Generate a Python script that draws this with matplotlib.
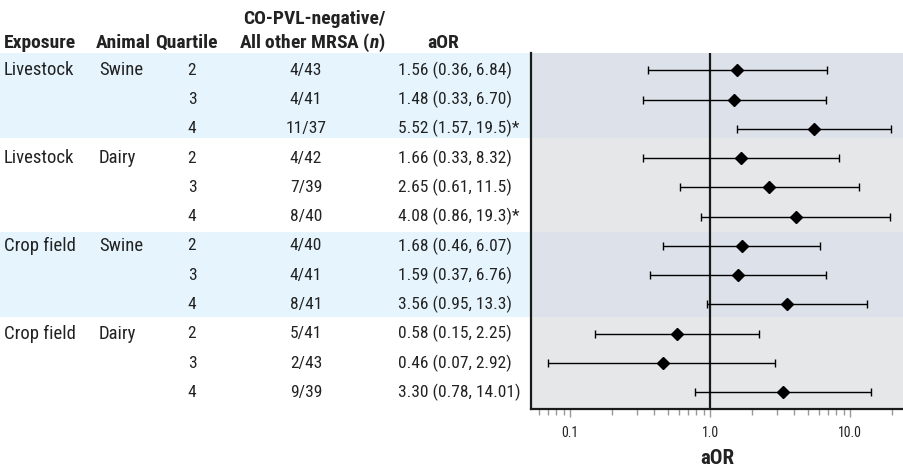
import matplotlib
matplotlib.use("Agg")
import matplotlib.pyplot as plt

plt.rcParams['font.family'] = ['Roboto Condensed', 'DejaVu Sans']
plt.rcParams['mathtext.fontset'] = 'custom'
plt.rcParams['mathtext.it'] = 'Roboto Condensed:italic:bold'

# donnees du tableau
exposures = ["Livestock", "Livestock", "Crop field", "Crop field"]
animals = ["Swine", "Dairy", "Swine", "Dairy"]
quartiles = ["2", "3", "4"] * 4
counts = ["4/43", "4/41", "11/37", "4/42", "7/39", "8/40",
          "4/40", "4/41", "8/41", "5/41", "2/43", "9/39"]
aor = [1.56, 1.48, 5.52, 1.66, 2.65, 4.08, 1.68, 1.59, 3.56, 0.58, 0.46, 3.30]
ci_low = [0.36, 0.33, 1.57, 0.33, 0.61, 0.86, 0.46, 0.37, 0.95, 0.15, 0.07, 0.78]
ci_high = [6.84, 6.70, 19.5, 8.32, 11.5, 19.3, 6.07, 6.76, 13.3, 2.25, 2.92, 14.01]
aor_labels = ["1.56 (0.36, 6.84)", "1.48 (0.33, 6.70)", "5.52 (1.57, 19.5)*",
              "1.66 (0.33, 8.32)", "2.65 (0.61, 11.5)", "4.08 (0.86, 19.3)*",
              "1.68 (0.46, 6.07)", "1.59 (0.37, 6.76)", "3.56 (0.95, 13.3)",
              "0.58 (0.15, 2.25)", "0.46 (0.07, 2.92)", "3.30 (0.78, 14.01)"]

W, H = 904, 467
XL = 530.7
fig = plt.figure(figsize=(W / 100, H / 100), dpi=100)
rect_b, rect_h = (H - 409) / H, (409 - 53) / H
ax = fig.add_axes([XL / W, rect_b, 1 - XL / W, rect_h])
tab = fig.add_axes([0, rect_b, XL / W, rect_h], zorder=-1)

rows = list(range(len(aor)))
ylim = (11.57, -0.59)
ax.set_ylim(*ylim)
tab.set_ylim(*ylim)
tab.set_xlim(0, XL)
tab.axis('off')
ax.set_xscale('log')
ax.set_xlim(0.0524, 24.3)

# bandes de fond
bounds = [-0.59, 2.33, 5.52, 8.43, 11.57]
for g in range(4):
    y0, y1 = bounds[g], bounds[g + 1]
    if animals[g] == "Swine":
        ax.axhspan(y0, y1, color='#dde2ea', lw=0, zorder=0)
        tab.axhspan(y0, y1, color='#e6f5fd', lw=0, zorder=0)
    else:
        ax.axhspan(y0, y1, color='#e6e7e8', lw=0, zorder=0)

ax.axvline(1.0, color='#1a1a1a', lw=1.6, zorder=2)
xerr = [[a - l for a, l in zip(aor, ci_low)], [h - a for a, h in zip(aor, ci_high)]]
ax.errorbar(aor, rows, xerr=xerr, fmt='D', color='black', ms=6, elinewidth=1,
            capsize=2.6, capthick=1, zorder=3)

for s in ['top', 'right']:
    ax.spines[s].set_visible(False)
for s in ['left', 'bottom']:
    ax.spines[s].set_linewidth(1.6)
    ax.spines[s].set_color('#1a1a1a')
ax.set_yticks([])
ax.set_xticks([0.1, 1.0, 10.0])
ax.set_xticklabels(['0.1', '1.0', '10.0'])
ax.tick_params(axis='x', which='major', length=6, width=1, color='#999999',
               labelsize=10, pad=6, labelcolor='#222222')
ax.tick_params(axis='x', which='minor', length=4, width=1, color='#999999')
ax.set_xlabel('aOR', fontsize=15, fontweight='bold', color='#222222', labelpad=7)

# tableau a gauche
txt = dict(color='#222222', va='center')
for g in range(4):
    tab.text(4, g * 3, exposures[g], ha='left', fontsize=13.5, **txt)
    tab.text(99, g * 3, animals[g], ha='left', fontsize=13.5, **txt)
for i in rows:
    tab.text(192, i, quartiles[i], ha='center', fontsize=12.5, **txt)
    tab.text(306, i, counts[i], ha='center', fontsize=12.5, **txt)
    tab.text(398, i, aor_labels[i], ha='left', fontsize=12.5, **txt)

hdr = dict(fontsize=14, fontweight='bold', color='#222222', va='baseline')
yb = 1 - 48 / H
fig.text(4 / W, yb, 'Exposure', ha='left', **hdr)
fig.text(96 / W, yb, 'Animal', ha='left', **hdr)
fig.text(186 / W, yb, 'Quartile', ha='center', **hdr)
fig.text(312 / W, yb, 'All other MRSA ($\\it{n}$)', ha='center', **hdr)
fig.text(314 / W, 1 - 24 / H, 'CO-PVL-negative/', ha='center', **hdr)
fig.text(443 / W, yb, 'aOR', ha='center', **hdr)

fig.savefig('out.png', dpi=100)
